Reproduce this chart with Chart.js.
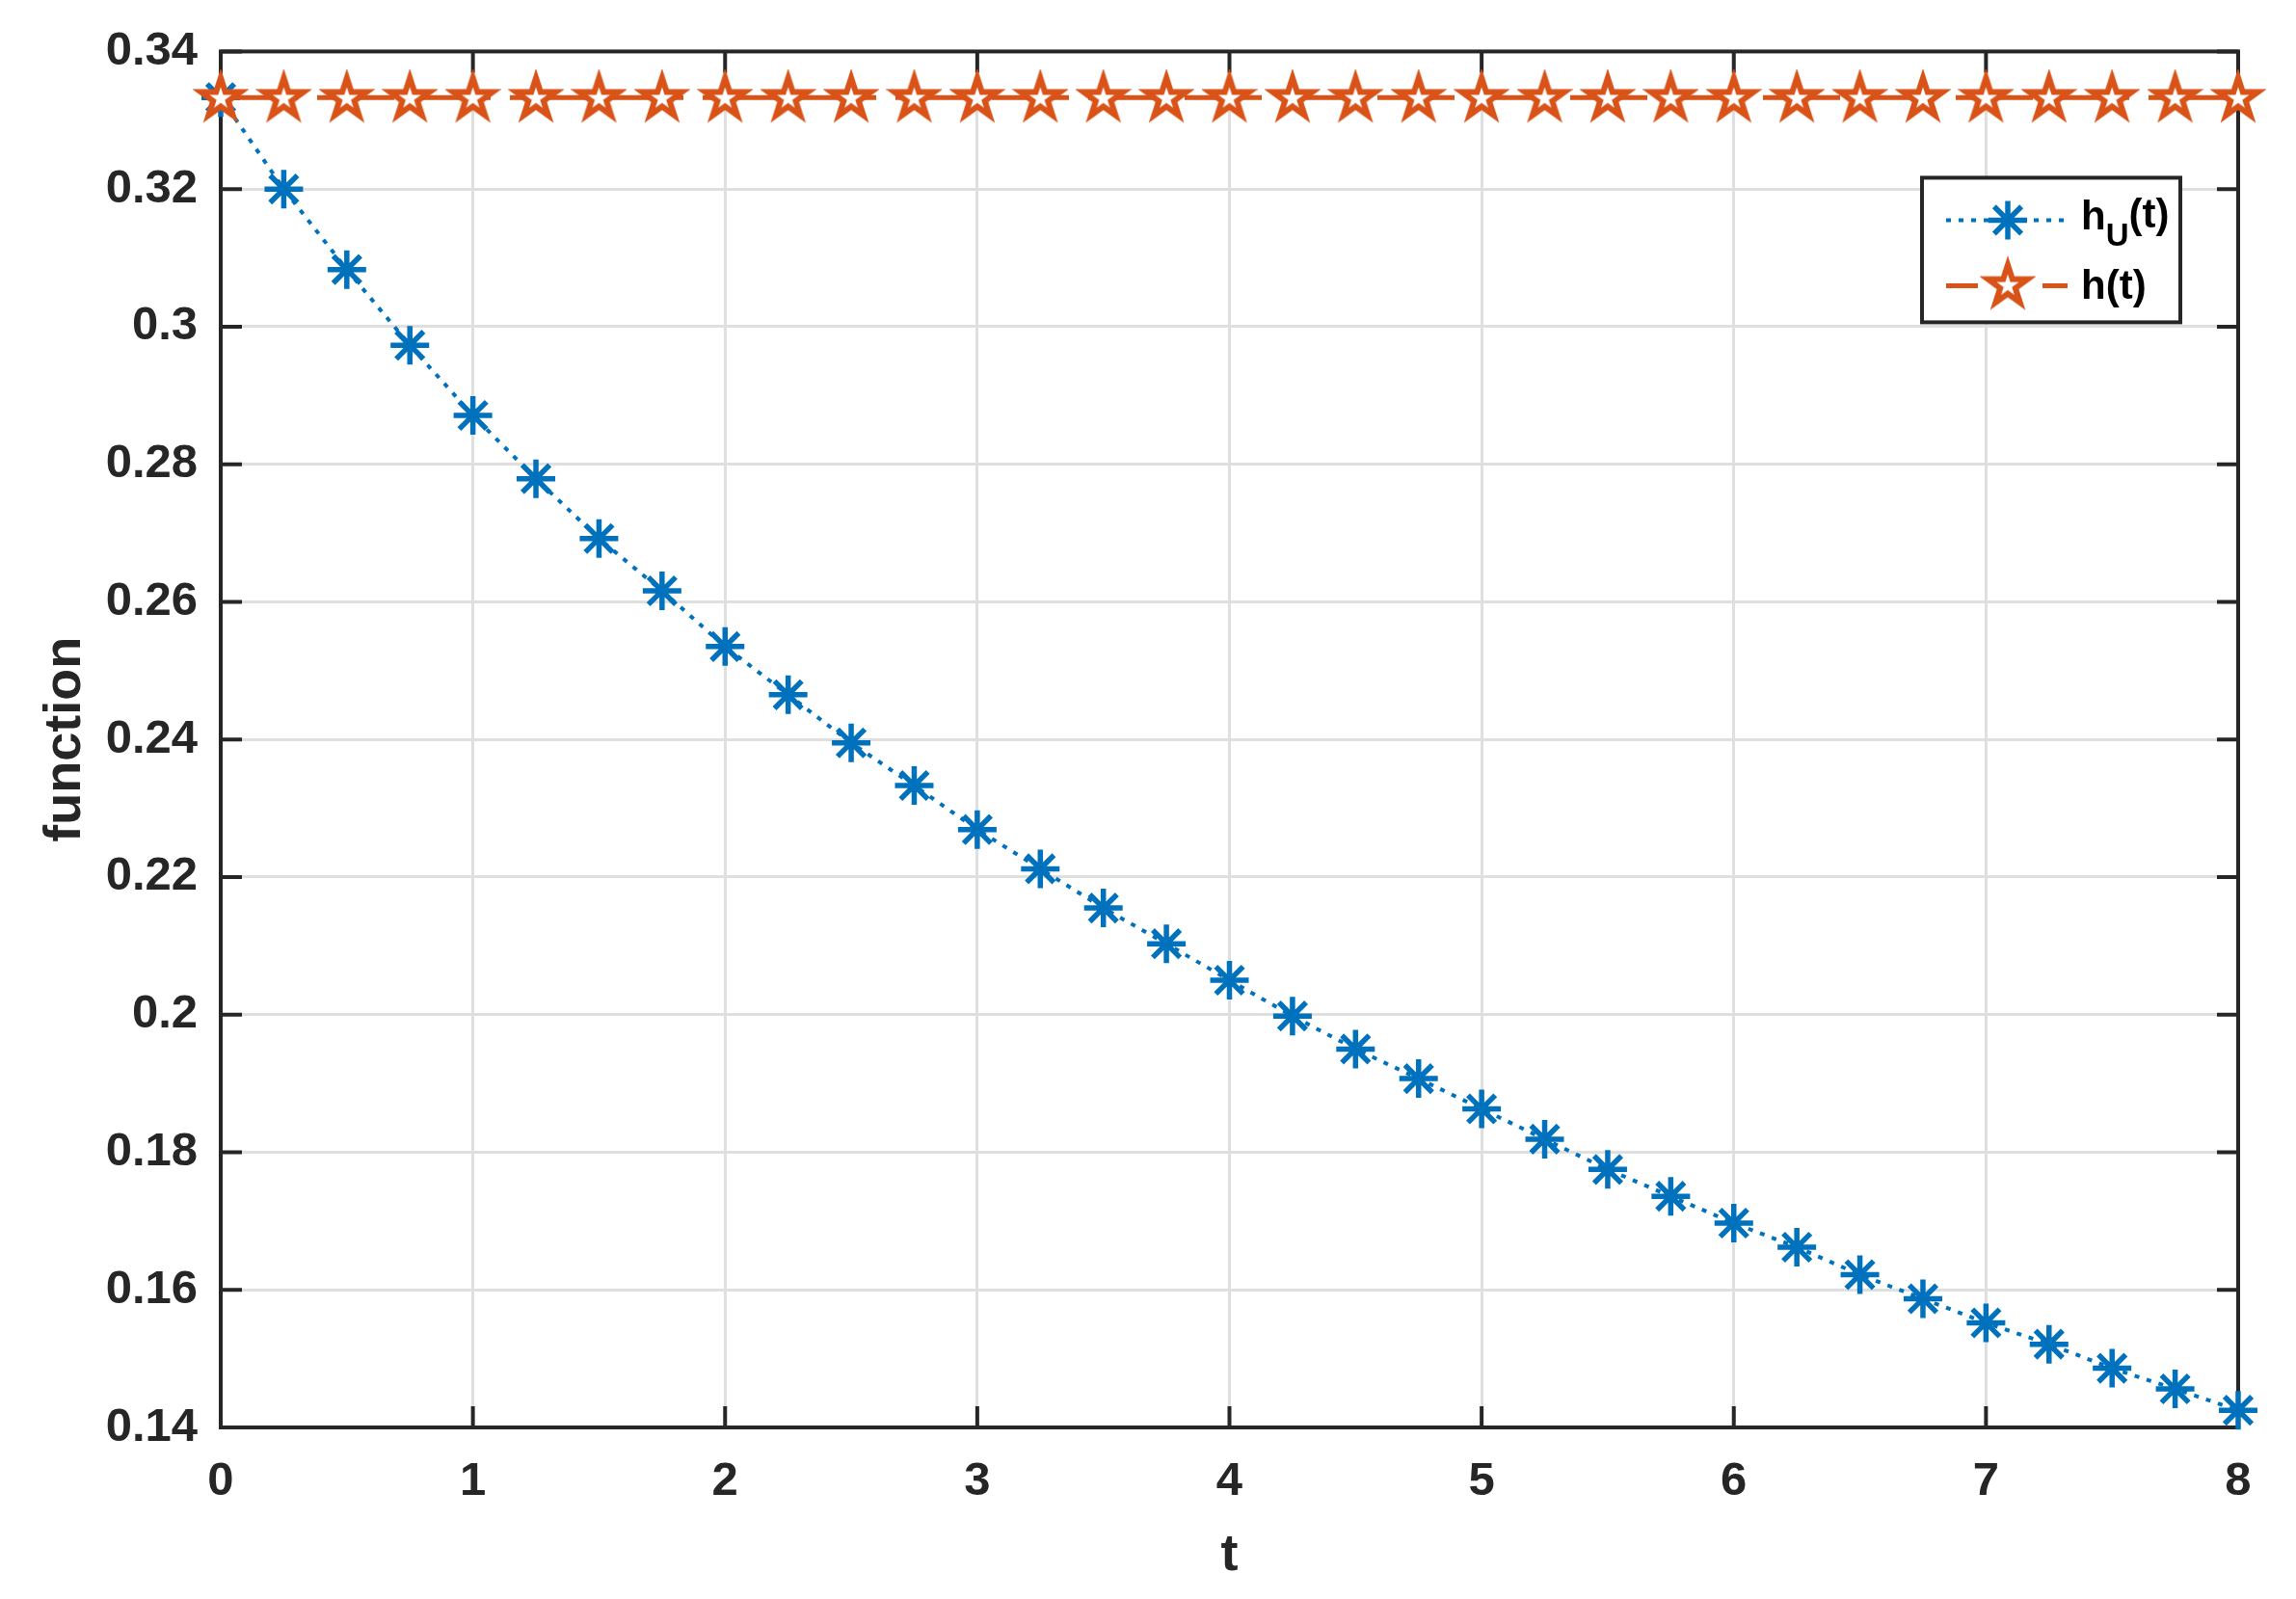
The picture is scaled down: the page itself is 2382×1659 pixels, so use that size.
<!DOCTYPE html>
<html>
<head>
<meta charset="utf-8">
<title>h(t)</title>
<script src="https://cdn.jsdelivr.net/npm/chart.js"></script>
<style>
  body { margin: 0; background: #ffffff; }
  #wrap { position: relative; width: 2382px; height: 1659px; }
</style>
</head>
<body>
<div id="wrap"><canvas id="myChart"></canvas></div>
<script>
// values
var tValues = [0, 0.25, 0.5, 0.75, 1, 1.25, 1.5, 1.75, 2, 2.25, 2.5, 2.75, 3, 3.25, 3.5, 3.75,
               4, 4.25, 4.5, 4.75, 5, 5.25, 5.5, 5.75, 6, 6.25, 6.5, 6.75, 7, 7.25, 7.5, 7.75, 8];
var hUValues = [0.3333, 0.3200, 0.3083, 0.2973, 0.2871, 0.2779, 0.2692, 0.2616, 0.2535, 0.2465, 0.2395,
                0.2333, 0.2269, 0.2212, 0.2155, 0.2103, 0.2050, 0.1998, 0.1950, 0.1907, 0.1863, 0.1819,
                0.1775, 0.1736, 0.1697, 0.1662, 0.1622, 0.1587, 0.1552, 0.1521, 0.1486, 0.1456, 0.1425];
var hValues = [0.3333, 0.3333, 0.3333, 0.3333, 0.3333, 0.3333, 0.3333, 0.3333, 0.3333, 0.3333, 0.3333,
               0.3333, 0.3333, 0.3333, 0.3333, 0.3333, 0.3333, 0.3333, 0.3333, 0.3333, 0.3333, 0.3333,
               0.3333, 0.3333, 0.3333, 0.3333, 0.3333, 0.3333, 0.3333, 0.3333, 0.3333, 0.3333, 0.3333];
var xTicks = [0, 1, 2, 3, 4, 5, 6, 7, 8];
var xTickLabels = ["0", "1", "2", "3", "4", "5", "6", "7", "8"];
var yTicks = [0.14, 0.16, 0.18, 0.2, 0.22, 0.24, 0.26, 0.28, 0.3, 0.32, 0.34];
var yTickLabels = ["0.14", "0.16", "0.18", "0.2", "0.22", "0.24", "0.26", "0.28", "0.3", "0.32", "0.34"];

var blue = "#0072BD";
var orange = "#D95319";
var axisColor = "#262626";
var fontFam = "'Liberation Sans', Arial, Helvetica, sans-serif";

// pentagram marker (matlab 'p')
function makePentagram() {
    var c = document.createElement("canvas");
    c.width = 58;
    c.height = 58;
    var g = c.getContext("2d");
    var R = 21.5, r = 21.5 * 0.382, cx = 29, cy = 30;
    g.beginPath();
    for (var i = 0; i < 10; i++) {
        var a = -Math.PI / 2 + i * Math.PI / 5;
        var rr = (i % 2 === 0) ? R : r;
        var px = cx + rr * Math.cos(a), py = cy + rr * Math.sin(a);
        if (i === 0) g.moveTo(px, py); else g.lineTo(px, py);
    }
    g.closePath();
    g.fillStyle = "#ffffff";
    g.fill();
    g.lineWidth = 6;
    g.lineJoin = "miter";
    g.strokeStyle = orange;
    g.stroke();
    return c;
}
var pentagram = makePentagram();

function drawAsterisk(ctx, x, y, r) {
    ctx.beginPath();
    ctx.moveTo(x - r, y); ctx.lineTo(x + r, y);
    ctx.moveTo(x, y - r); ctx.lineTo(x, y + r);
    var d = r * Math.SQRT1_2;
    ctx.moveTo(x - d, y - d); ctx.lineTo(x + d, y + d);
    ctx.moveTo(x - d, y + d); ctx.lineTo(x + d, y - d);
    ctx.stroke();
}

// box + inward ticks like matlab
var boxPlugin = {
    id: "boxPlugin",
    beforeDatasetsDraw: function (chart) {
        var ctx = chart.ctx;
        var a = chart.chartArea;
        var xs = chart.scales.x, ys = chart.scales.y;
        var tl = 22;
        ctx.save();
        ctx.strokeStyle = axisColor;
        ctx.lineWidth = 4;
        ctx.beginPath();
        xTicks.forEach(function (v) {
            var px = xs.getPixelForValue(v);
            ctx.moveTo(px, a.bottom); ctx.lineTo(px, a.bottom - tl);
            ctx.moveTo(px, a.top); ctx.lineTo(px, a.top + tl);
        });
        yTicks.forEach(function (v) {
            var py = ys.getPixelForValue(v);
            ctx.moveTo(a.left, py); ctx.lineTo(a.left + tl, py);
            ctx.moveTo(a.right, py); ctx.lineTo(a.right - tl, py);
        });
        ctx.stroke();
        ctx.strokeRect(a.left, a.top, a.right - a.left, a.bottom - a.top);
        ctx.restore();
    }
};

var legendPlugin = {
    id: "legendPlugin",
    afterDraw: function (chart) {
        var ctx = chart.ctx;
        var a = chart.chartArea;
        var bx = a.right - 328, by = a.top + 131, bw = 268, bh = 150;
        ctx.save();
        ctx.fillStyle = "#ffffff";
        ctx.fillRect(bx, by, bw, bh);
        ctx.strokeStyle = axisColor;
        ctx.lineWidth = 4;
        ctx.strokeRect(bx, by, bw, bh);

        var x0 = bx + 25, x1 = bx + 151, xm = bx + 89;
        var y1 = by + 44, y2 = by + 112;

        // h_U row
        ctx.strokeStyle = blue;
        ctx.lineWidth = 4;
        ctx.setLineDash([5, 8]);
        ctx.beginPath();
        ctx.moveTo(x0, y1); ctx.lineTo(x1, y1);
        ctx.stroke();
        ctx.setLineDash([]);
        ctx.lineWidth = 5.5;
        drawAsterisk(ctx, xm, y1, 20);

        // h row
        ctx.strokeStyle = orange;
        ctx.lineWidth = 5;
        ctx.beginPath();
        ctx.moveTo(x0, y2); ctx.lineTo(x0 + 33, y2);
        ctx.moveTo(x1 - 26, y2); ctx.lineTo(x1, y2);
        ctx.stroke();
        ctx.drawImage(pentagram, xm - 29, y2 - 30);

        // text
        ctx.fillStyle = "#000000";
        ctx.textBaseline = "alphabetic";
        ctx.textAlign = "left";
        var tx = bx + 165;
        ctx.font = "bold 42px " + fontFam;
        ctx.fillText("h", tx, y1 + 10);
        var w = ctx.measureText("h").width;
        ctx.font = "bold 33px " + fontFam;
        ctx.fillText("U", tx + w, y1 + 27);
        var w2 = ctx.measureText("U").width;
        ctx.font = "bold 42px " + fontFam;
        ctx.fillText("(t)", tx + w + w2, y1 + 8);
        ctx.fillText("h(t)", tx, y2 + 14);
        ctx.restore();
    }
};

var ctx = document.getElementById("myChart").getContext("2d");
var myChart = new Chart(ctx, {
    type: "line",
    data: {
        labels: tValues,
        datasets: [{
            label: "hU(t)",
            data: hUValues,
            order: 1,
            borderColor: blue,
            borderWidth: 4,
            borderDash: [5, 8],
            fill: false,
            tension: 0,
            pointStyle: "star",
            pointRadius: 20,
            pointBorderWidth: 5.5,
            pointBorderColor: blue,
            pointBackgroundColor: blue,
            clip: false
        }, {
            label: "h(t)",
            data: hValues,
            order: 0,
            borderColor: orange,
            borderWidth: 5,
            borderDash: [80, 20],
            fill: false,
            tension: 0,
            pointStyle: pentagram,
            pointRadius: 21,
            clip: false
        }]
    },
    options: {
        responsive: true,
        maintainAspectRatio: false,
        animation: false,
        devicePixelRatio: 1,
        events: [],
        layout: { padding: { left: 0, right: 60, top: 52, bottom: 0 } },
        plugins: {
            legend: { display: false },
            tooltip: { enabled: false }
        },
        scales: {
            x: {
                type: "linear",
                min: 0,
                max: 8,
                afterBuildTicks: function (scale) {
                    scale.ticks = xTicks.map(function (v) { return { value: v }; });
                },
                afterFit: function (scale) { scale.height = 178; },
                ticks: {
                    padding: 27,
                    color: axisColor,
                    font: { family: fontFam, size: 49, weight: "bold" },
                    callback: function (v) { return xTickLabels[xTicks.indexOf(v)]; }
                },
                grid: { color: "#dfdfdf", lineWidth: 3, drawTicks: false },
                border: { display: false },
                title: {
                    display: true,
                    text: "t",
                    color: axisColor,
                    font: { family: fontFam, size: 54, weight: "bold" },
                    padding: { top: 0, bottom: 12 }
                }
            },
            y: {
                type: "linear",
                min: 0.14,
                max: 0.34,
                afterBuildTicks: function (scale) {
                    scale.ticks = yTicks.map(function (v) { return { value: v }; });
                },
                afterFit: function (scale) { scale.width = 229; },
                ticks: {
                    padding: 24,
                    color: axisColor,
                    font: { family: fontFam, size: 49, weight: "bold" },
                    callback: function (v) {
                        var i = yTicks.findIndex(function (t) { return Math.abs(t - v) < 1e-9; });
                        return yTickLabels[i];
                    }
                },
                grid: { color: "#dfdfdf", lineWidth: 3, drawTicks: false },
                border: { display: false },
                title: {
                    display: true,
                    text: "function",
                    color: axisColor,
                    font: { family: fontFam, size: 54, weight: "bold" },
                    padding: { top: 36, bottom: 0 }
                }
            }
        }
    },
    plugins: [boxPlugin, legendPlugin]
});
</script>
</body>
</html>
